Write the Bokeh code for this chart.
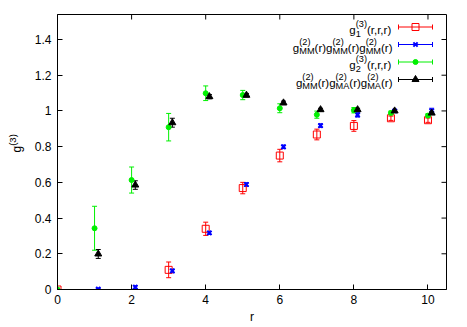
import numpy as np
from bokeh.plotting import figure
from bokeh.models import (ColumnDataSource, Whisker, TeeHead, Label,
                          FixedTicker, Range1d, NumeralTickFormatter)
from bokeh.embed import file_html
from bokeh.resources import INLINE

# ---------------- data ----------------
r_g1 = [0, 3, 4, 5, 6, 7, 8, 9, 10]
g1 = [0.0, 0.11, 0.34, 0.568, 0.75, 0.868, 0.916, 0.959, 0.948]
g1_err = [0.0, 0.044, 0.037, 0.032, 0.035, 0.03, 0.03, 0.012, 0.012]

r_mm = [1, 2, 3, 4, 5, 6, 7, 8, 9, 10]
g_mm = [0.003, 0.013, 0.104, 0.317, 0.588, 0.799, 0.918, 0.978, 1.0, 1.0]
g_mm_err = [0.003, 0.008, 0.01, 0.008, 0.01, 0.01, 0.01, 0.012, 0.008, 0.015]

r_g2 = [0, 1, 2, 3, 4, 5, 6, 7, 8, 9, 10]
g2 = [0.0, 0.343, 0.613, 0.909, 1.099, 1.089, 1.015, 0.979, 1.004, 0.989, 0.974]
g2_err = [0.0, 0.123, 0.073, 0.077, 0.041, 0.026, 0.025, 0.02, 0.015, 0.01, 0.01]

r_ma = [1, 2, 3, 4, 5, 6, 7, 8, 9, 10]
g_ma = [0.199, 0.585, 0.934, 1.08, 1.088, 1.045, 1.007, 1.007, 1.0, 0.988]
g_ma_err = [0.025, 0.024, 0.025, 0.012, 0.01, 0.01, 0.008, 0.008, 0.006, 0.008]

x_ticks = [0, 2, 4, 6, 8, 10]
x_tick_labels = ["0", "2", "4", "6", "8", "10"]
y_ticks = [0, 0.2, 0.4, 0.6, 0.8, 1, 1.2, 1.4]
y_tick_labels = ["0", "0.2", "0.4", "0.6", "0.8", "1", "1.2", "1.4"]
x_title = "r"

# ---------------- layout ----------------
X0, X1 = 0.0, 10.5
Y0, Y1 = 0.0, 1.54
FL, FT, FW, FH = 57, 14, 389, 275   # frame position in page pixels
PW, PH = 466, 326                    # canvas size

def X(px):
    return X0 + (px - FL) / FW * (X1 - X0)

def Y(py):
    return Y0 + (FT + FH - py) / FH * (Y1 - Y0)

FONT = "Liberation Sans"

p = figure(frame_width=FW, frame_height=FH,
           min_border_left=FL, min_border_top=FT,
           min_border_right=PW - FL - FW,
           min_border_bottom=PH - FT - FH,
           x_range=Range1d(X0, X1), y_range=Range1d(Y0, Y1),
           output_backend="svg", toolbar_location=None,
           background_fill_color="white", border_fill_color="white")
p.xgrid.visible = False
p.ygrid.visible = False
p.outline_line_color = "black"
p.outline_line_width = 1
p.outline_line_alpha = 1

def style_axis(ax, ticks, labels):
    ax.ticker = FixedTicker(ticks=ticks)
    ax.major_label_overrides = dict(zip(ticks, labels))
    ax.major_tick_in = 5
    ax.major_tick_out = 0
    ax.minor_tick_line_color = None
    ax.major_tick_line_color = "black"
    ax.axis_line_color = "black"
    ax.major_label_text_font = FONT
    ax.major_label_text_color = "black"
    ax.major_label_text_font_size = "12px"

p.yaxis.formatter = NumeralTickFormatter(format="0.[0]")
style_axis(p.xaxis[0], x_ticks, x_tick_labels)
style_axis(p.yaxis[0], y_ticks, y_tick_labels)
p.xaxis.major_label_standoff = 5
p.yaxis.major_label_standoff = 6

p.xaxis.axis_label = x_title
p.xaxis.axis_label_text_font = FONT
p.xaxis.axis_label_text_font_size = "12px"
p.xaxis.axis_label_text_font_style = "normal"
p.xaxis.axis_label_text_color = "black"
p.xaxis.axis_label_standoff = 3

# mirrored inward ticks on the top and right border
TICK = 5
p.segment(x0=x_ticks, x1=x_ticks, y0=[Y(FT)] * len(x_ticks), y1=[Y(FT + TICK)] * len(x_ticks),
          line_color="black", line_width=1)
p.segment(x0=[X(FL + FW)] * len(y_ticks), x1=[X(FL + FW - TICK)] * len(y_ticks),
          y0=y_ticks, y1=y_ticks, line_color="black", line_width=1)

# ---------------- series ----------------
series = [
    dict(r=r_g1, v=g1, e=g1_err, off=0.0, color="#ff0000", marker="square", size=7, fill=None, lw=1),
    dict(r=r_mm, v=g_mm, e=g_mm_err, off=0.1, color="#0000ff", marker="x", size=6, fill=None, lw=2),
    dict(r=r_g2, v=g2, e=g2_err, off=0.0, color="#00f000", marker="circle", size=5, fill="#00f000", lw=1),
    dict(r=r_ma, v=g_ma, e=g_ma_err, off=0.1, color="#000000", marker="triangle", size=7, fill="#000000", lw=1),
]

for s in series:
    xs = np.array(s["r"], dtype=float) + s["off"]
    v = np.array(s["v"])
    e = np.array(s["e"])
    src = ColumnDataSource(dict(x=xs, y=v, lo=v - e, hi=v + e))
    w = Whisker(source=src, base="x", lower="lo", upper="hi", dimension="height",
                line_color=s["color"], line_width=1,
                upper_head=TeeHead(size=5, line_color=s["color"], line_width=1),
                lower_head=TeeHead(size=5, line_color=s["color"], line_width=1))
    p.add_layout(w)
    p.scatter("x", "y", source=src, marker=s["marker"], size=s["size"],
              line_color=s["color"], fill_color=s["fill"], line_width=s["lw"])

# ---------------- legend (manual, gnuplot-style) ----------------
MAIN, SMALL = 11.5, 9.2
W = {'g': 556, 'r': 333, '(': 333, ')': 333, ',': 278, 'M': 833, 'A': 667,
     '1': 556, '2': 556, '3': 556}

def tw(s, size):
    return sum(W[c] for c in s) / 1000.0 * size

def mm(sub):
    return [("n", "g"), ("s", "(2)", sub), ("n", "(r)")]

legend_rows = [
    [("n", "g"), ("s", "(3)", "1"), ("n", "(r,r,r)")],
    mm("MM") + mm("MM") + mm("MM"),
    [("n", "g"), ("s", "(3)", "2"), ("n", "(r,r,r)")],
    mm("MM") + mm("MA") + mm("MA"),
]
row_y = [26.5, 44.0, 61.5, 79.0]
text_right = 392
samp_x0, samp_x1, samp_xm = 398, 432, 415

def make_text(px, py, text, size, align="left", angle=0.0):
    return Label(x=X(px), y=Y(py), text=text, text_font=FONT,
                 text_font_size=f"{size}px", text_color="black",
                 text_align=align, text_baseline="alphabetic", angle=angle)

for tokens, ry, s in zip(legend_rows, row_y, series):
    widths = []
    for t in tokens:
        if t[0] == "n":
            widths.append(tw(t[1], MAIN))
        else:
            widths.append(max(tw(t[1], SMALL), tw(t[2], SMALL)))
    x = text_right - sum(widths)
    base = ry + 3.2
    for t, wdt in zip(tokens, widths):
        if t[0] == "n":
            p.add_layout(make_text(x, base, t[1], MAIN))
        else:
            p.add_layout(make_text(x, base - 5.8, t[1], SMALL))
            p.add_layout(make_text(x, base + 3.6, t[2], SMALL))
        x += wdt
    c = s["color"]
    p.segment(x0=[X(samp_x0), X(samp_x0), X(samp_x1)],
              y0=[Y(ry), Y(ry - 2.5), Y(ry - 2.5)],
              x1=[X(samp_x1), X(samp_x0), X(samp_x1)],
              y1=[Y(ry), Y(ry + 2.5), Y(ry + 2.5)],
              line_color=c, line_width=1)
    p.scatter(x=[X(samp_xm)], y=[Y(ry)], marker=s["marker"], size=s["size"],
              line_color=c, fill_color=s["fill"], line_width=s["lw"])

# ---------------- y-axis title g^(3), placed in the left panel ----------------
p.add_layout(make_text(16, 152, "g", 12, angle=np.pi / 2), "left")
p.add_layout(make_text(11.5, 152 - tw("g", 12), "(3)", 9.6, angle=np.pi / 2), "left")

open("out.html", "w").write(file_html(p, INLINE))
